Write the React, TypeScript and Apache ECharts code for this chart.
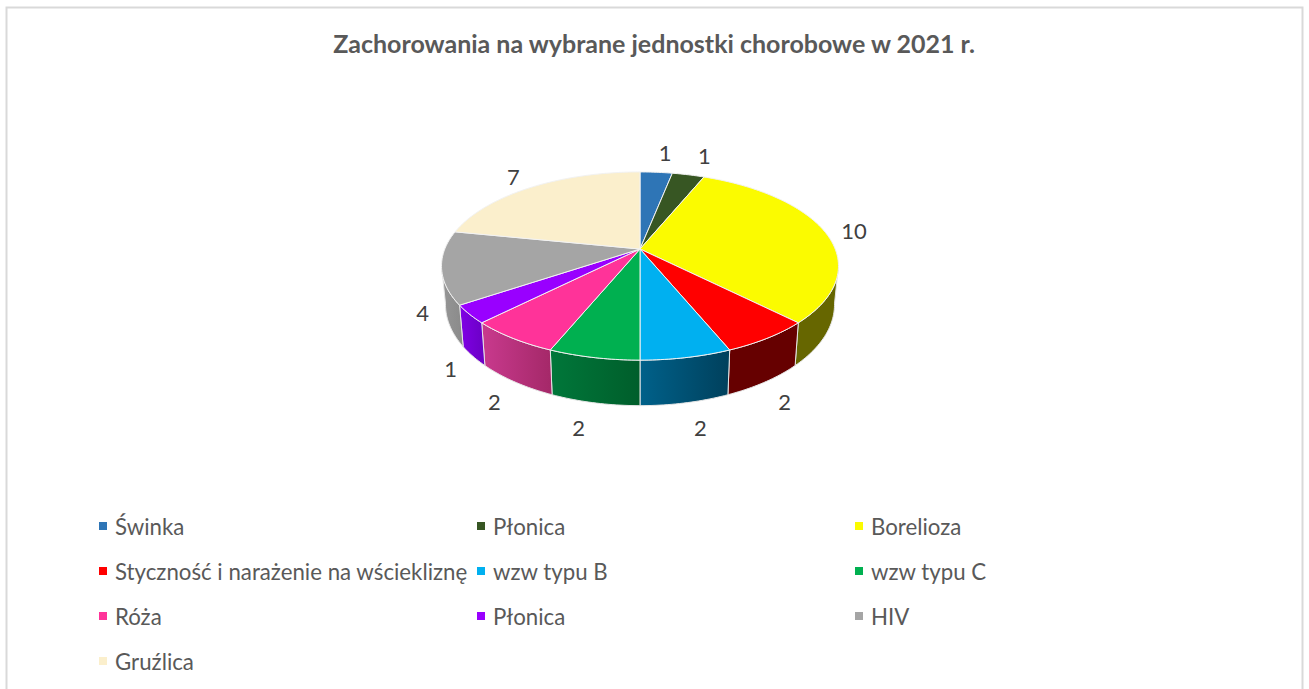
import React, { useEffect, useRef } from "react";
import * as echarts from "echarts";

const titleText = "Zachorowania na wybrane jednostki chorobowe w 2021 r.";
const diseases = ["Świnka", "Płonica", "Borelioza", "Styczność i narażenie na wściekliznę", "wzw typu B", "wzw typu C", "Róża", "Płonica", "HIV", "Gruźlica"];
const cases = [1, 1, 10, 2, 2, 2, 2, 1, 4, 7];
const topColors = ["#2E75B6", "#375623", "#FBFB00", "#FF0000", "#00B0F0", "#00B050", "#FF3399", "#9900FF", "#A5A5A5", "#FBEFCC"];
const wallFrom = ["#1c4a74", "#223615", "#666600", "#660000", "#00618A", "#00773A", "#C93A8E", "#8000E6", "#969696", "#8a8470"];
const wallTo = ["#1c4a74", "#223615", "#666600", "#660000", "#00405C", "#005E2B", "#A42868", "#6A00C4", "#8A8A8A", "#8a8470"];
const labelOffsets = [[9, -20], [16, -19], [29, -1], [17, 63], [14, 70], [-15, 70], [-18, 63], [-19, 54], [-19, 45], [-18, -11]];
const legendCols = [99, 477, 855];
const legendRows = [527, 572, 617, 662];

const FONT = "Lato, 'Open Sans', sans-serif";
const CX = 640, CY = 249, KP = 0.181, RX = 195.2, RY = 91, DEPTH = 37.3, SHRINK = 0.98;
const WALL_START = 100, WALL_END = 260;
const total = cases.reduce((a, b) => a + b, 0);

function project(deg: number): [number, number, number] {
  const t = (deg * Math.PI) / 180;
  const X = Math.sin(t);
  const Y = -Math.cos(t);
  const den = 1 - KP * Y;
  return [CX + (RX * X) / den, CY + (RY * Y) / den, DEPTH / den];
}
function arcAngles(a: number, b: number) {
  const out: number[] = [];
  const n = Math.max(2, Math.ceil(b - a));
  for (let i = 0; i <= n; i++) out.push(a + ((b - a) * i) / n);
  return out;
}

function sliceItem(index: number) {
  return () => {
    const before = cases.slice(0, index).reduce((a, b) => a + b, 0);
    const a0 = (before / total) * 360;
    const a1 = ((before + cases[index]) / total) * 360;
    const children: any[] = [];
    const w0 = Math.max(a0, WALL_START);
    const w1 = Math.min(a1, WALL_END);
    if (w1 > w0) {
      const angs = arcAngles(w0, w1);
      const topEdge = angs.map((d) => project(d));
      const botEdge = topEdge.map(([x, y, h]) => [CX + (x - CX) * SHRINK, y + h]);
      children.push({
        type: "polygon",
        z2: 1,
        shape: { points: [...topEdge.map(([x, y]) => [x, y]), ...botEdge.reverse()] },
        style: {
          fill: new echarts.graphic.LinearGradient(0, 0, 1, 0, [
            { offset: 0, color: wallFrom[index] },
            { offset: 1, color: wallTo[index] },
          ]),
          stroke: "#e6e6e6",
          lineWidth: 1,
        },
      });
    }
    const rim = arcAngles(a0, a1).map((d) => {
      const [x, y] = project(d);
      return [x, y];
    });
    children.push({
      type: "polygon",
      z2: 2,
      shape: { points: [[CX, CY], ...rim] },
      style: { fill: topColors[index], stroke: "#f2f2f2", lineWidth: 1 },
    });
    const [mx, my] = project((a0 + a1) / 2);
    children.push({
      type: "text",
      z2: 3,
      x: mx + labelOffsets[index][0],
      y: my + labelOffsets[index][1],
      style: {
        text: String(cases[index]),
        fill: "#404040",
        font: `22px ${FONT}`,
        textAlign: "center",
        textVerticalAlign: "middle",
      },
    });
    return { type: "group", children };
  };
}

export default function App() {
  const ref = useRef<HTMLDivElement>(null);
  useEffect(() => {
    document.body.style.margin = "0";
    document.body.style.overflow = "hidden";
    const chart = echarts.init(ref.current!, undefined, { renderer: "svg" });
    chart.setOption({
      animation: false,
      backgroundColor: "#ffffff",
      title: {
        text: titleText,
        left: 649,
        top: 25,
        textAlign: "center",
        textStyle: { fontFamily: FONT, fontWeight: "bold", fontSize: 25, color: "#595959" },
      },
      graphic: [
        {
          type: "rect",
          silent: true,
          shape: { x: 6.5, y: 7.5, width: 1296, height: 720 },
          style: { fill: "none", stroke: "#d9d9d9", lineWidth: 2 },
        },
      ],
      legend: diseases.map((name, i) => ({
        show: true,
        orient: "horizontal",
        left: legendCols[i % 3],
        top: legendRows[Math.floor(i / 3)] - 12,
        padding: 0,
        itemWidth: 8,
        itemHeight: 8,
        icon: "rect",
        selectedMode: false,
        textStyle: { fontFamily: FONT, fontSize: 22.25, color: "#595959", padding: [0, 0, 0, 3] },
        data: [{ name, icon: "rect", itemStyle: { color: topColors[i] } }],
      })),
      series: diseases.map((name, i) => ({
        type: "custom",
        name,
        coordinateSystem: "none",
        silent: true,
        clip: false,
        itemStyle: { color: topColors[i] },
        data: [[cases[i]]],
        renderItem: sliceItem(i),
      })),
    });
    return () => chart.dispose();
  }, []);
  return <div ref={ref} style={{ width: 1309, height: 689 }} />;
}
